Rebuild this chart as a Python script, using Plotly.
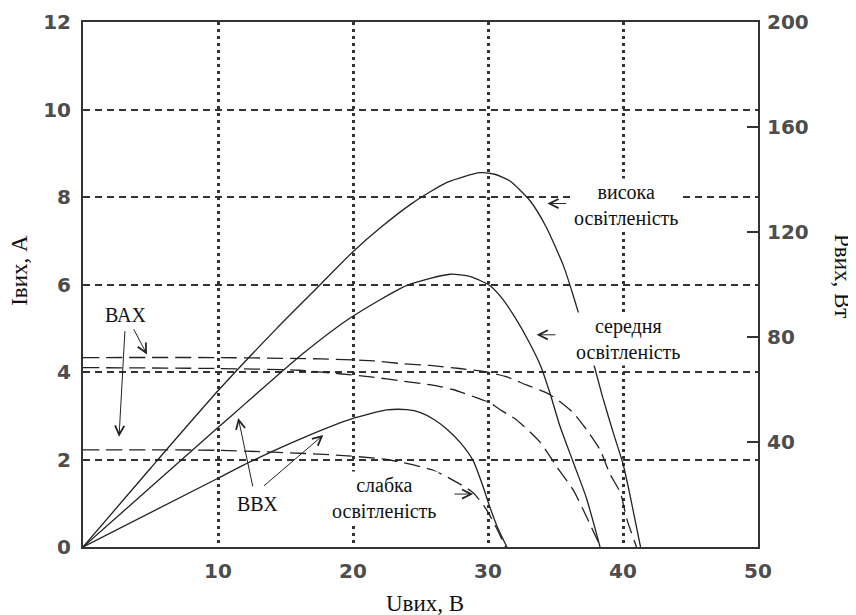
import plotly.graph_objects as go

# ---- data (U in V, I in A, P in W) ----
u_iv_high = [0, 10, 17.6, 21.3, 23.7, 25.7, 27.9, 29.9, 31.4, 32.4, 34.6, 36.3, 37.3, 38.3, 39.0, 39.8, 40.3, 41.0]
i_iv_high = [4.33, 4.33, 4.30, 4.26, 4.19, 4.15, 4.08, 4.00, 3.89, 3.76, 3.48, 3.07, 2.68, 2.22, 1.69, 1.24, 0.62, 0]

u_iv_mid = [0, 10, 16, 19.0, 21.3, 23.7, 25.7, 27.4, 28.9, 30.1, 31.1, 32.1, 33.9, 35.1, 36.3, 37.3, 38.1, 38.4]
i_iv_mid = [4.10, 4.08, 4.04, 3.96, 3.89, 3.79, 3.71, 3.60, 3.44, 3.30, 3.10, 2.91, 2.38, 1.83, 1.31, 0.69, 0.16, 0]

u_iv_low = [0, 10, 18.3, 22.5, 25.9, 27.4, 28.9, 29.9, 30.7, 31.3]
i_iv_low = [2.22, 2.21, 2.11, 2.00, 1.76, 1.53, 1.24, 0.85, 0.39, 0]

u_pv_high = [0, 5, 10, 14.3, 17.2, 20, 22, 24.4, 27, 29.4, 30.5, 31.6, 33.1, 34.3, 35.6, 36.3, 37.8, 38.5, 39.3, 40.0, 40.5, 41.3]
p_pv_high = [0, 30, 59.5, 83, 98, 112.5, 121.5, 131, 139, 142.6, 142, 139.5, 132, 122, 107, 96, 70.3, 56.9, 43.2, 31.7, 20.2, 0]

u_pv_mid = [0, 10, 12.1, 16.3, 19.9, 24, 27.2, 28.7, 30.1, 31, 32, 33, 33.9, 34.6, 35.3, 36.3, 37.3, 38.3]
p_pv_mid = [0, 45.5, 55, 73.7, 87.6, 99.7, 103.9, 103, 99.7, 95, 87.5, 78.5, 69, 58.5, 46.5, 32.5, 18.5, 0]

u_pv_low = [0, 10, 12.4, 16.3, 20, 22.5, 24, 25, 26, 27, 28, 28.9, 29.6, 30.1, 30.7, 31.4]
p_pv_low = [0, 26.2, 32.5, 41.6, 49, 52.2, 52.3, 51.2, 48.6, 44.7, 39.5, 32.9, 23.5, 15.8, 7.5, 0]

x_ticks = [10, 20, 30, 40, 50]
y_ticks = [0, 2, 4, 6, 8, 10, 12]
y2_ticks = [40, 80, 120, 160, 200]

LINE = "#222222"
AX = "#333333"
TICKFONT = dict(family="DejaVu Sans", size=20, color="#4d4d4d", weight="bold")
SERIF = "Liberation Serif"

fig = go.Figure()

iv_dash = "16px,7px"
for u, i in [(u_iv_high, i_iv_high), (u_iv_mid, i_iv_mid), (u_iv_low, i_iv_low)]:
    fig.add_trace(go.Scatter(x=u, y=i, mode="lines", yaxis="y",
                             line=dict(color=LINE, width=1.3, dash=iv_dash, shape="spline", smoothing=0.6),
                             showlegend=False, hoverinfo="skip"))

for u, p in [(u_pv_high, p_pv_high), (u_pv_mid, p_pv_mid), (u_pv_low, p_pv_low)]:
    fig.add_trace(go.Scatter(x=u, y=p, mode="lines", yaxis="y2",
                             line=dict(color=LINE, width=1.3, shape="spline", smoothing=0.6),
                             showlegend=False, hoverinfo="skip"))

labels = [
    ("висока<br>освітленість", 40.2, 7.81),
    ("середня<br>освітленість", 40.4, 4.76),
    ("слабка<br>освітленість", 22.3, 1.12),
    ("ВАХ", 3.19, 5.31),
    ("ВВХ", 12.9, 0.98),
]
annotations = []
for text, x, y in labels:
    annotations.append(dict(text=text, x=x, y=y, xref="x", yref="y", showarrow=False,
                            xanchor="center", yanchor="middle",
                            font=dict(family=SERIF, size=20, color="#111111"),
                            bgcolor="white", borderpad=2))

# arrows: (head_x, head_y, tail_x, tail_y)
arrows = [
    (2.67, 2.52, 3.11, 4.97),
    (4.74, 4.40, 3.70, 5.01),
    (11.5, 2.95, 12.6, 1.35),
    (17.8, 2.56, 13.3, 1.37),
    (34.4, 7.85, 35.9, 7.85),
    (33.6, 4.85, 35.1, 4.85),
    (28.9, 1.21, 27.4, 1.21),
]
for hx, hy, tx, ty in arrows:
    annotations.append(dict(x=hx, y=hy, ax=tx, ay=ty, xref="x", yref="y", axref="x", ayref="y",
                            text="", showarrow=True, arrowhead=5, arrowsize=1.8, arrowwidth=1,
                            arrowcolor=LINE))

# axis titles
annotations += [
    dict(text="Iвих, А", x=-0.0933, y=0.526, xref="paper", yref="paper", showarrow=False,
         xanchor="center", yanchor="middle",
         textangle=-90, font=dict(family=SERIF, size=23, color="#111111")),
    dict(text="Рвих, Вт", x=1.126, y=0.516, xref="paper", yref="paper", showarrow=False,
         xanchor="center", yanchor="middle",
         textangle=90, font=dict(family=SERIF, size=23, color="#111111")),
    dict(text="Uвих, В", x=0.507, y=-0.107, xref="paper", yref="paper", showarrow=False,
         xanchor="center", yanchor="middle",
         font=dict(family=SERIF, size=23, color="#111111")),
]

fig.update_layout(
    template="none",
    width=856, height=615,
    margin=dict(l=75, r=106, t=14, b=76, autoexpand=False),
    paper_bgcolor="white", plot_bgcolor="white",
    showlegend=False,
    xaxis=dict(range=[0, 50], tickvals=x_ticks, showgrid=True, gridcolor=AX, gridwidth=2.5,
               griddash="3px,4px", showline=True, mirror=True, linecolor=AX, linewidth=2,
               zeroline=False, ticks="", tickfont=TICKFONT, ticklabelstandoff=5, automargin=False),
    yaxis=dict(range=[0, 12], tickvals=y_ticks, showgrid=True, gridcolor=AX, gridwidth=2,
               griddash="7px,5px", showline=True, mirror=True, linecolor=AX, linewidth=2,
               zeroline=False, ticks="", tickfont=TICKFONT, ticklabelstandoff=6, automargin=False),
    yaxis2=dict(range=[0, 200], tickvals=y2_ticks, overlaying="y", side="right", showgrid=False,
                zeroline=False, showline=False, ticks="inside", ticklen=11, tickwidth=2,
                tickcolor=AX, tickfont=TICKFONT, ticklabelstandoff=8, automargin=False),
    annotations=annotations,
)

fig.write_html("out.html")
